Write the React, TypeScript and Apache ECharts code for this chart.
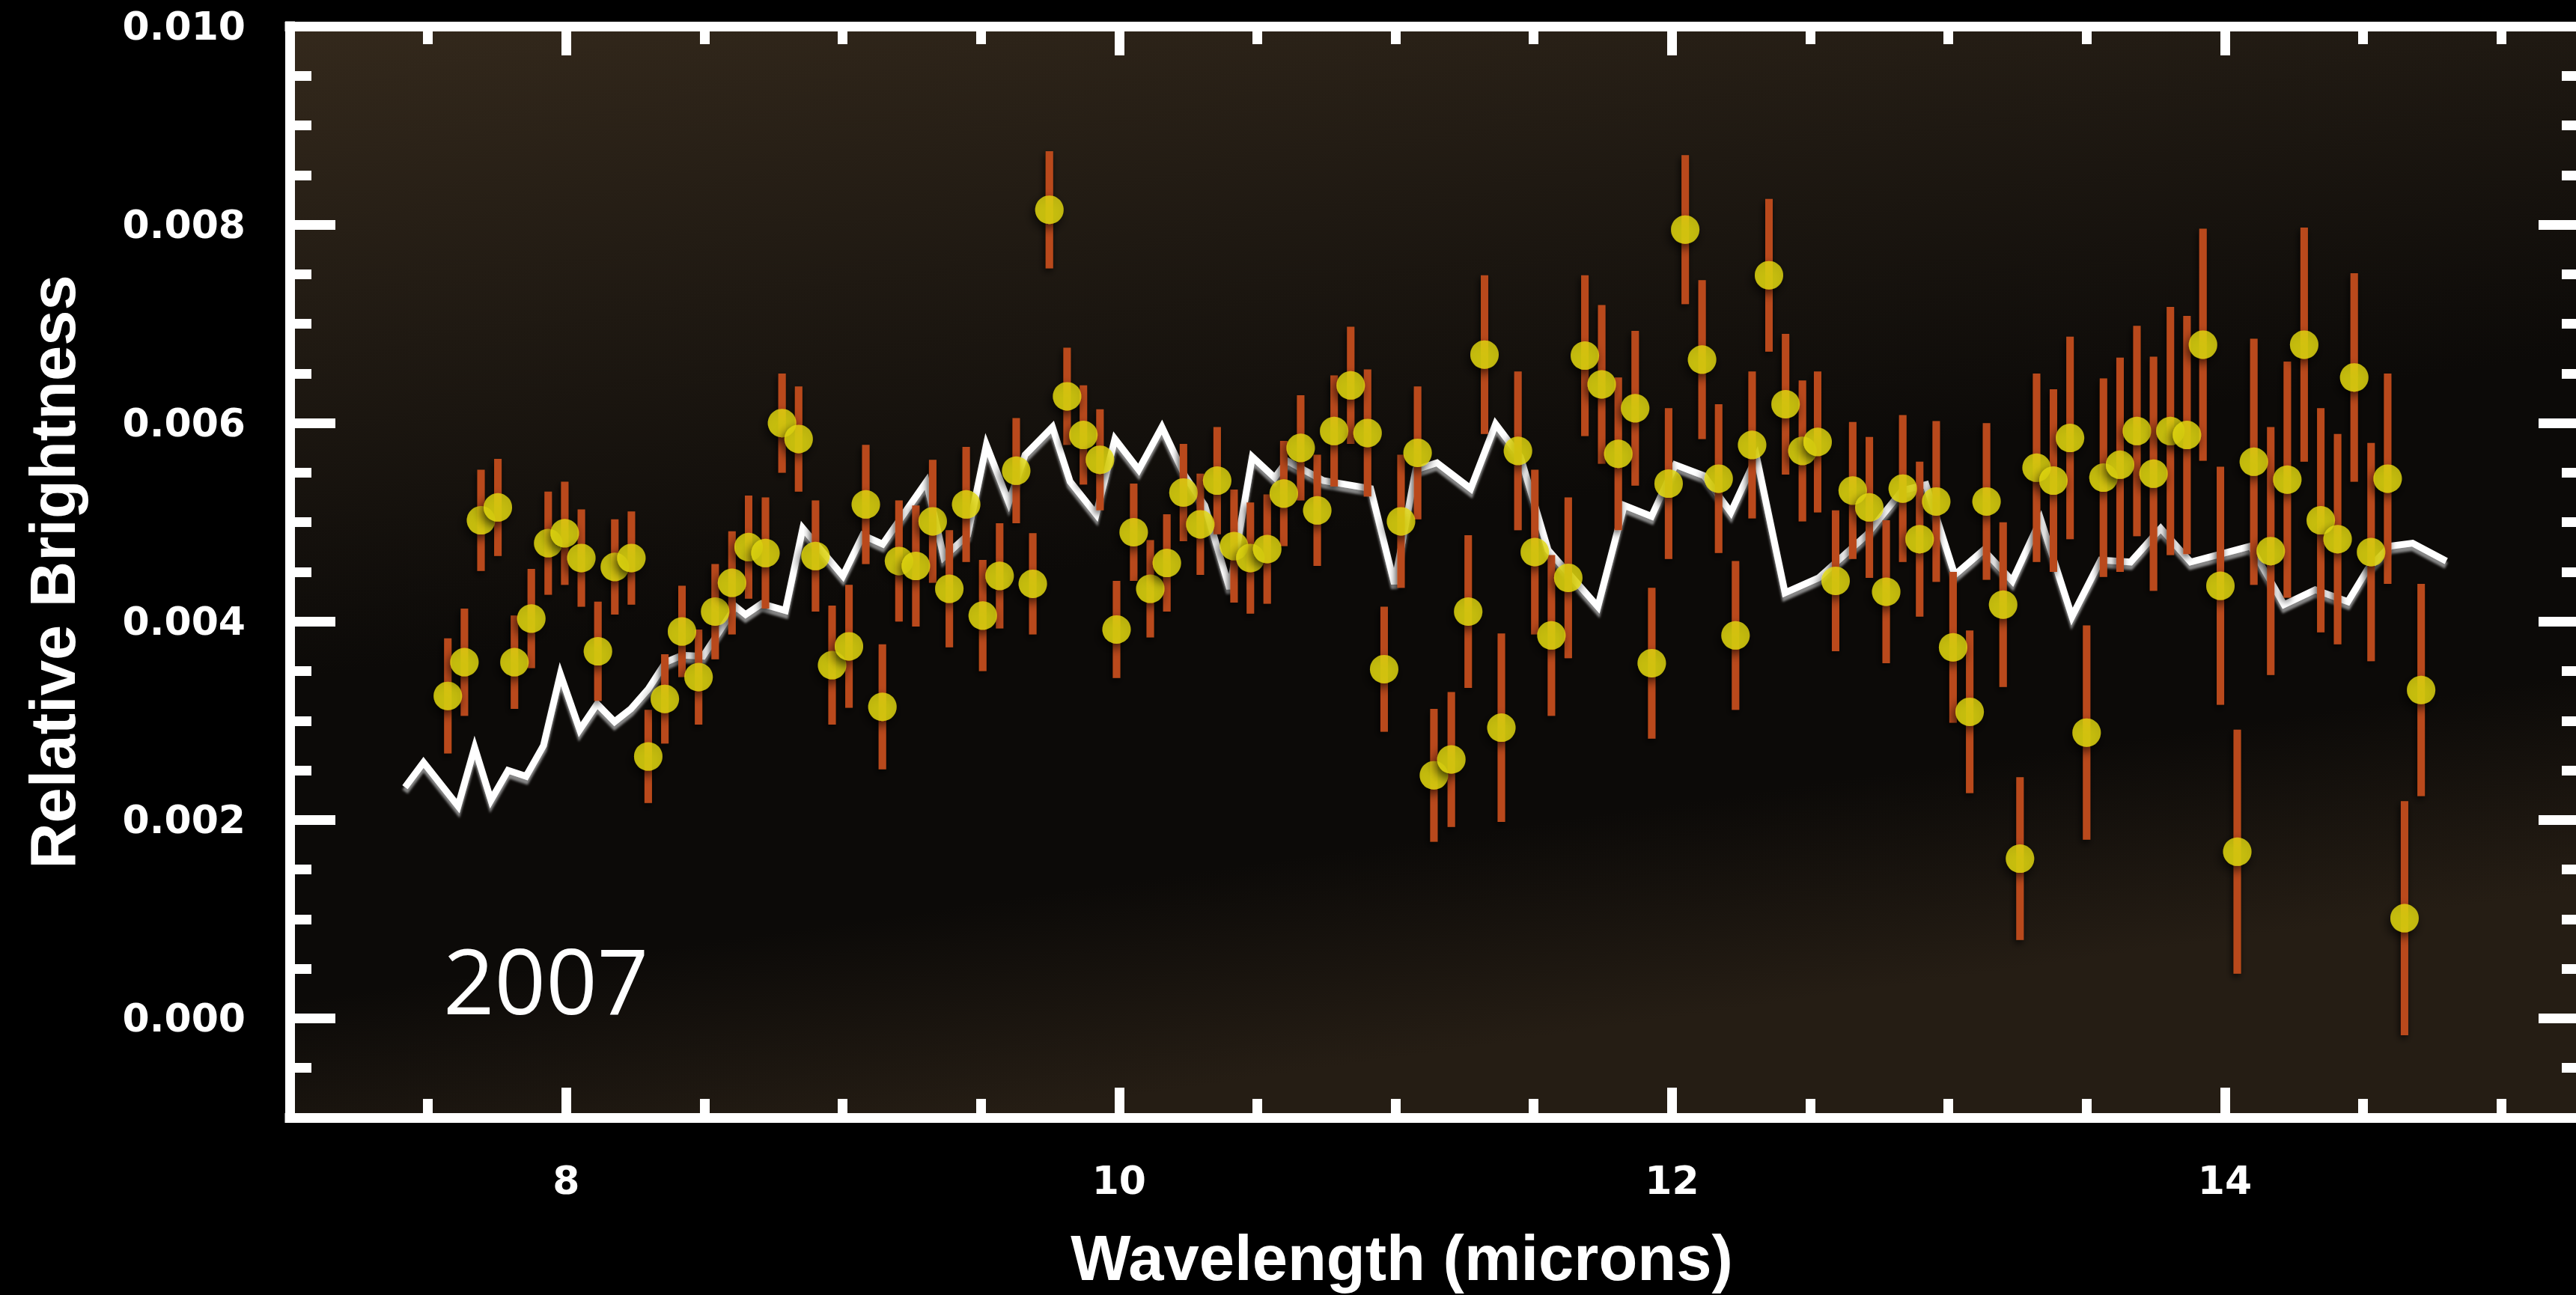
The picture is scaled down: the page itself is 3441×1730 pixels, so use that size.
import React, { useEffect, useRef } from 'react';
import * as echarts from 'echarts';

// ---- observed spectrum (wavelength in microns) ----
const dataWavelength = [
  7.572, 7.632, 7.692, 7.753, 7.813, 7.874, 7.935, 7.995, 8.055, 8.115, 8.176, 8.236, 8.297, 8.357,
  8.419, 8.479, 8.539, 8.6, 8.66, 8.721, 8.781, 8.841, 8.902, 8.962, 9.023, 9.084, 9.144, 9.204, 9.265, 9.326, 9.386, 9.447, 9.507, 9.568, 9.628, 9.688, 9.748,
  9.812, 9.871, 9.931, 9.991, 10.053, 10.113, 10.173, 10.233, 10.294, 10.355, 10.416, 10.475, 10.536, 10.596, 10.657, 10.717, 10.778, 10.838, 10.899, 10.959, 11.02, 11.08, 11.139,
  11.202, 11.263, 11.322, 11.383, 11.443, 11.504, 11.564, 11.625, 11.685, 11.746, 11.806, 11.867, 11.927, 11.988, 12.048, 12.109, 12.169, 12.23, 12.29, 12.351, 12.411, 12.472, 12.527,
  12.592, 12.654, 12.714, 12.775, 12.835, 12.896, 12.956, 13.017, 13.077, 13.138, 13.198, 13.259, 13.319, 13.38, 13.44, 13.5, 13.561, 13.621, 13.682, 13.742, 13.803, 13.863,
  13.921, 13.984, 14.045, 14.105, 14.166, 14.226, 14.287, 14.347, 14.408, 14.468, 14.529, 14.589, 14.65, 14.71,
];

// relative brightness, in units of 0.001
const dataBrightnessE3 = [
  3.25, 3.59, 5.02, 5.15, 3.59, 4.03, 4.79, 4.89, 4.64, 3.7, 4.55, 4.64, 2.64, 3.22,
  3.9, 3.44, 4.1, 4.39, 4.75, 4.69, 6.0, 5.84, 4.66, 3.56, 3.75, 5.18, 3.14, 4.61, 4.56, 5.01, 4.33, 5.18, 4.06, 4.46, 5.52, 4.38, 8.15,
  6.27, 5.88, 5.63, 3.92, 4.9, 4.33, 4.59, 5.3, 4.98, 5.42, 4.76, 4.64, 4.73, 5.29, 5.75, 5.12, 5.92, 6.38, 5.9, 3.52, 5.01, 5.7, 2.45,
  2.61, 4.1, 6.69, 2.93, 5.72, 4.7, 3.86, 4.44, 6.68, 6.39, 5.69, 6.15, 3.58, 5.39, 7.95, 6.64, 5.44, 3.86, 5.78, 7.49, 6.19, 5.72, 5.81,
  4.41, 5.32, 5.15, 4.3, 5.34, 4.83, 5.21, 3.74, 3.09, 5.21, 4.17, 1.61, 5.55, 5.42, 5.85, 2.88, 5.45, 5.58, 5.92, 5.49, 5.92, 5.88,
  6.79, 4.36, 1.68, 5.61, 4.71, 5.43, 6.79, 5.02, 4.83, 6.46, 4.7, 5.44, 1.01, 3.31,
];

// one-sigma error, in units of 0.001
const dataErrorE3 = [
  0.58, 0.54, 0.51, 0.49, 0.47, 0.5, 0.52, 0.52, 0.49, 0.5, 0.48, 0.47, 0.47, 0.45,
  0.46, 0.48, 0.48, 0.52, 0.52, 0.56, 0.5, 0.53, 0.56, 0.6, 0.62, 0.6, 0.63, 0.61, 0.61, 0.62, 0.59, 0.58, 0.56, 0.53, 0.53, 0.51, 0.59,
  0.49, 0.5, 0.51, 0.49, 0.49, 0.49, 0.49, 0.49, 0.51, 0.54, 0.57, 0.56, 0.55, 0.53, 0.53, 0.56, 0.56, 0.59, 0.64, 0.63, 0.67, 0.67, 0.67,
  0.68, 0.77, 0.8, 0.95, 0.8, 0.83, 0.81, 0.81, 0.81, 0.8, 0.77, 0.78, 0.76, 0.76, 0.75, 0.8, 0.75, 0.75, 0.74, 0.77, 0.71, 0.71, 0.71,
  0.71, 0.69, 0.71, 0.72, 0.74, 0.78, 0.81, 0.76, 0.82, 0.79, 0.83, 0.82, 0.95, 0.92, 1.02, 1.08, 1.0, 1.08, 1.06, 1.18, 1.25, 1.2,
  1.17, 1.2, 1.23, 1.24, 1.25, 1.19, 1.18, 1.13, 1.06, 1.05, 1.1, 1.06, 1.18, 1.07,
];

// model curve: [wavelength, brightness x 0.001]
const modelCurveE3: [number, number][] = [
  [7.417, 2.33], [7.484, 2.58], [7.609, 2.14], [7.669, 2.73], [7.728, 2.2], [7.79, 2.5], [7.855, 2.44],
  [7.918, 2.75], [7.979, 3.47], [8.049, 2.91], [8.112, 3.17], [8.175, 2.99], [8.234, 3.12], [8.297, 3.32],
  [8.36, 3.59], [8.42, 3.66], [8.495, 3.65], [8.613, 4.15], [8.649, 4.07], [8.707, 4.18], [8.793, 4.11],
  [8.856, 4.94], [9.001, 4.46], [9.073, 4.87], [9.145, 4.78], [9.303, 5.41], [9.366, 4.65], [9.452, 4.87],
  [9.52, 5.78], [9.601, 5.2], [9.66, 5.68], [9.759, 5.96], [9.823, 5.41], [9.917, 5.08], [9.985, 5.84],
  [10.071, 5.53], [10.155, 5.96], [10.238, 5.47], [10.31, 5.17], [10.4, 4.33], [10.482, 5.66], [10.563, 5.45],
  [10.608, 5.62], [10.739, 5.42], [10.91, 5.34], [10.996, 4.38], [11.073, 5.53], [11.15, 5.6], [11.272, 5.34],
  [11.362, 5.99], [11.452, 5.66], [11.552, 4.72], [11.732, 4.15], [11.827, 5.17], [11.926, 5.06], [12.012, 5.58],
  [12.116, 5.47], [12.213, 5.1], [12.306, 5.66], [12.409, 4.29], [12.531, 4.44], [12.703, 4.87], [12.833, 5.32],
  [12.919, 5.38], [13.023, 4.47], [13.127, 4.72], [13.231, 4.41], [13.334, 5.03], [13.447, 4.05], [13.551, 4.62],
  [13.659, 4.6], [13.768, 4.94], [13.876, 4.6], [14.093, 4.76], [14.214, 4.17], [14.327, 4.32], [14.445, 4.2],
  [14.517, 4.53], [14.598, 4.76], [14.679, 4.79], [14.801, 4.61],
];

// axis ticks
const xMajorTicks = [8, 10, 12, 14];
const xMinorTicks = [7.5, 8.5, 9, 9.5, 10.5, 11, 11.5, 12.5, 13, 13.5, 14.5, 15];
const yMajorTicks = [0, 0.002, 0.004, 0.006, 0.008, 0.01];
const yMinorTicks = [-0.0005, 0.0005, 0.001, 0.0015, 0.0025, 0.003, 0.0035, 0.0045, 0.005, 0.0055, 0.0065, 0.007, 0.0075, 0.0085, 0.009, 0.0095];

const X_MIN = 7;
const X_MAX = 15.3;
const Y_MIN = -0.001;
const Y_MAX = 0.01;

const WHITE = '#ffffff';
const FRAME_W = 13;

export default function App() {
  const ref = useRef<HTMLDivElement>(null);

  useEffect(() => {
    if (!ref.current) return;
    const chart = echarts.init(ref.current, undefined, { renderer: 'svg', width: 3441, height: 1730 });

    const points = dataWavelength.map((x, i) => [x, dataBrightnessE3[i] * 1e-3]);
    const bars = dataWavelength.map((x, i) => [
      x,
      (dataBrightnessE3[i] - dataErrorE3[i]) * 1e-3,
      (dataBrightnessE3[i] + dataErrorE3[i]) * 1e-3,
    ]);
    const curve = modelCurveE3.map(([x, y]) => [x, y * 1e-3]);

    const tickLabelStyle = {
      color: WHITE,
      fontFamily: 'DejaVu Sans',
      fontWeight: 'bold' as const,
      fontSize: 52,
    };

    const xBase = (position: 'top' | 'bottom', values: number[], len: number, withLine: boolean, withLabels: boolean) => ({
      type: 'value' as const,
      position,
      min: X_MIN,
      max: X_MAX,
      gridIndex: 0,
      splitLine: { show: false },
      axisLine: { show: withLine, onZero: false, lineStyle: { color: WHITE, width: FRAME_W, cap: 'square' } },
      axisTick: { show: true, inside: true, length: len, customValues: values, lineStyle: { color: WHITE, width: FRAME_W } },
      axisLabel: withLabels
        ? { show: true, customValues: values, margin: 58, ...tickLabelStyle, formatter: (v: number) => String(v) }
        : { show: false },
    });

    const yBase = (position: 'left' | 'right', values: number[], len: number, withLine: boolean, withLabels: boolean) => ({
      type: 'value' as const,
      position,
      min: Y_MIN,
      max: Y_MAX,
      gridIndex: 0,
      splitLine: { show: false },
      axisLine: { show: withLine, onZero: false, lineStyle: { color: WHITE, width: FRAME_W, cap: 'square' } },
      axisTick: { show: true, inside: true, length: len, customValues: values, lineStyle: { color: WHITE, width: FRAME_W } },
      axisLabel: withLabels
        ? {
            show: true,
            customValues: values,
            margin: 59,
            padding: [12, 0, 0, 0],
            ...tickLabelStyle,
            formatter: (v: number) => v.toFixed(3),
          }
        : { show: false },
    });

    const xAxisBottomMajor: any = xBase('bottom', xMajorTicks, 40, false, true);
    xAxisBottomMajor.name = 'Wavelength (microns)';
    xAxisBottomMajor.nameLocation = 'middle';
    xAxisBottomMajor.nameGap = 145;
    xAxisBottomMajor.nameTextStyle = {
      color: WHITE,
      fontFamily: 'Liberation Sans',
      fontWeight: 'bold',
      fontSize: 85,
      padding: [0, 94, 0, 0],
    };

    const yAxisLeftMajor: any = yBase('left', yMajorTicks, 61, false, true);
    yAxisLeftMajor.name = 'Relative Brightness';
    yAxisLeftMajor.nameLocation = 'middle';
    yAxisLeftMajor.nameGap = 274;
    yAxisLeftMajor.nameRotate = 90;
    yAxisLeftMajor.nameTextStyle = {
      color: WHITE,
      fontFamily: 'Liberation Sans',
      fontWeight: 'bold',
      fontSize: 85,
    };

    const option: any = {
      animation: false,
      backgroundColor: '#000000',
      grid: {
        left: 387,
        top: 35,
        width: 3065,
        height: 1458,
        outerBoundsMode: 'none',
        containLabel: false,
        show: true,
        borderWidth: 0,
        backgroundColor: new echarts.graphic.LinearGradient(0, 0, 0.3, 1, [
          { offset: 0, color: '#34291c' },
          { offset: 0.28, color: '#1f1912' },
          { offset: 0.55, color: '#0c0a08' },
          { offset: 0.82, color: '#0c0a08' },
          { offset: 1, color: '#251d14' },
        ]),
      },
      xAxis: [
        xBase('bottom', xMinorTicks, 25, true, false),
        xAxisBottomMajor,
        xBase('top', xMinorTicks, 24, true, false),
        xBase('top', xMajorTicks, 39, false, false),
      ],
      yAxis: [
        yBase('left', yMinorTicks, 29, true, false),
        yAxisLeftMajor,
        yBase('right', yMinorTicks, 30, false, false),
        yBase('right', yMajorTicks, 61, false, false),
      ],
      graphic: [
        {
          type: 'text',
          x: 592,
          y: 1308,
          z: 10,
          style: {
            text: '2007',
            fill: WHITE,
            font: '120px "Open Sans"',
            align: 'left',
            verticalAlign: 'middle',
          },
        },
      ],
      series: [
        {
          type: 'line',
          name: 'model',
          xAxisIndex: 0,
          yAxisIndex: 0,
          data: curve,
          showSymbol: false,
          symbol: 'none',
          z: 2,
          lineStyle: {
            color: WHITE,
            width: 9,
            join: 'miter',
            shadowColor: 'rgba(140,140,140,0.95)',
            shadowBlur: 3,
            shadowOffsetY: 6,
          },
        },
        {
          type: 'custom',
          name: 'error',
          xAxisIndex: 0,
          yAxisIndex: 0,
          z: 3,
          data: bars,
          encode: { x: 0, y: [1, 2] },
          renderItem: (params: any, api: any) => {
            const x = api.value(0);
            const lo = api.coord([x, api.value(1)]);
            const hi = api.coord([x, api.value(2)]);
            const w = 10;
            return {
              type: 'rect',
              shape: { x: hi[0] - w / 2, y: hi[1], width: w, height: lo[1] - hi[1] },
              style: {
                fill: '#b94a1a',
                shadowBlur: 10,
                shadowColor: 'rgba(0,0,0,0.75)',
                shadowOffsetX: -2,
                shadowOffsetY: 4,
              },
            };
          },
        },
        {
          type: 'scatter',
          name: 'data',
          xAxisIndex: 0,
          yAxisIndex: 0,
          z: 4,
          data: points,
          symbol: 'circle',
          symbolSize: 38,
          itemStyle: {
            color: '#e2d80e',
            shadowBlur: 14,
            shadowColor: 'rgba(0,0,0,0.85)',
            shadowOffsetX: -3,
            shadowOffsetY: 6,
          },
        },
      ],
    };

    chart.setOption(option);
    return () => chart.dispose();
  }, []);

  return (
    <div
      ref={ref}
      style={{ position: 'absolute', left: 0, top: 0, width: 3441, height: 1730, background: '#000' }}
    />
  );
}
